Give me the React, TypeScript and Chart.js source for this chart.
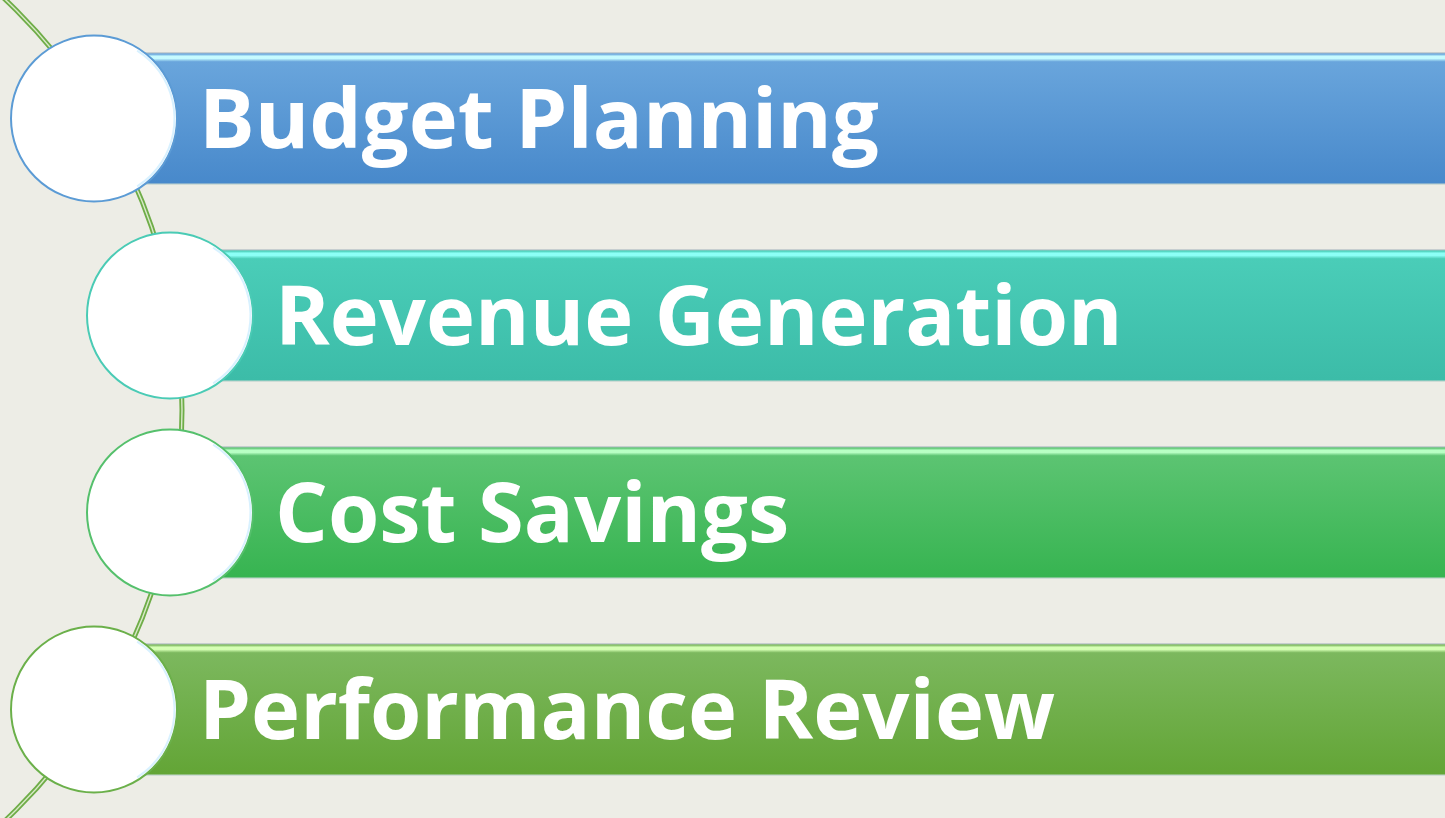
import React, { useEffect, useRef } from "react";
import { Chart, registerables } from "chart.js";

Chart.register(...registerables);

const categories = ["Budget Planning", "Revenue Generation", "Cost Savings", "Performance Review"];
const barStart = [94, 170, 170, 94];
const barEnd = [1445, 1445, 1445, 1445];
const circleX = [94, 170, 170, 94];
const circleRadius = [83, 83, 83, 83];

const barTop = ["#69A5DC", "#4ACDB8", "#5CC472", "#7CB85E"];
const barBottom = ["#4889CB", "#3CBCA8", "#37B451", "#63A536"];
const barShine = ["#C6FBFF", "#8CFFF6", "#B8FFC4", "#D5FFB4"];
const circleBorder = ["#5B9BD5", "#4ACBB5", "#55C06C", "#6BB04A"];

const BG = "#EDEDE6";

export default function App() {
  const ref = useRef<HTMLCanvasElement | null>(null);

  useEffect(() => {
    document.body.style.margin = "0";
    const canvas = ref.current;
    if (!canvas) return;

    const barThick = 132;

    const bgPlugin = {
      id: "bg",
      beforeDraw(chart: any) {
        const { ctx, width, height } = chart;
        ctx.save();
        ctx.fillStyle = BG;
        ctx.fillRect(0, 0, width, height);
        ctx.restore();
      },
    };

    const arcPlugin = {
      id: "arc",
      beforeDatasetsDraw(chart: any) {
        const { ctx } = chart;
        const y = chart.scales.y;
        const x = chart.scales.x;
        const cy = (y.getPixelForValue(1) + y.getPixelForValue(2)) / 2 - 4;
        const R = 565;
        const cx = x.getPixelForValue(182) - R;
        ctx.save();
        ctx.beginPath();
        ctx.arc(cx, cy, R, -Math.PI / 2, Math.PI / 2);
        ctx.strokeStyle = "#6FAD48";
        ctx.lineWidth = 5;
        ctx.stroke();
        ctx.beginPath();
        ctx.arc(cx, cy, R, -Math.PI / 2, Math.PI / 2);
        ctx.strokeStyle = "#D9E9C9";
        ctx.lineWidth = 1.4;
        ctx.stroke();
        ctx.restore();
      },
    };

    const circleShine = {
      id: "circleShine",
      afterDatasetsDraw(chart: any) {
        const { ctx } = chart;
        const meta = chart.getDatasetMeta(0);
        ctx.save();
        meta.data.forEach((pt: any, i: number) => {
          const r = circleRadius[i];
          ctx.beginPath();
          ctx.arc(pt.x, pt.y, r - 2.5, -Math.PI * 0.32, Math.PI * 0.32);
          ctx.strokeStyle = "rgba(200,235,255,0.7)";
          ctx.lineWidth = 2;
          ctx.stroke();
        });
        ctx.restore();
      },
    };

    const textPlugin = {
      id: "labels",
      afterDatasetsDraw(chart: any) {
        const { ctx } = chart;
        const xs = chart.scales.x;
        const ys = chart.scales.y;
        ctx.save();
        ctx.fillStyle = "#FFFFFF";
        ctx.font = "bold 83px 'Open Sans'";
        ctx.textBaseline = "alphabetic";
        ctx.textAlign = "left";
        categories.forEach((c, i) => {
          const x = xs.getPixelForValue(circleX[i]) + 105;
          const y = ys.getPixelForValue(i) + 29;
          ctx.fillText(c, x, y);
        });
        ctx.restore();
      },
    };

    const barFill = (context: any) => {
      const i = context.dataIndex;
      const chart = context.chart;
      const ys = chart.scales && chart.scales.y;
      if (!ys || !chart.chartArea) return barTop[i];
      const yc = ys.getPixelForValue(i);
      const t = yc - barThick / 2;
      const g = chart.ctx.createLinearGradient(0, t, 0, t + barThick);
      g.addColorStop(0, "#B9C4C8");
      g.addColorStop(0.012, barTop[i]);
      g.addColorStop(0.028, barShine[i]);
      g.addColorStop(0.045, barShine[i]);
      g.addColorStop(0.07, barTop[i]);
      g.addColorStop(0.985, barBottom[i]);
      g.addColorStop(1, "#C5D6D0");
      return g;
    };

    const chart = new Chart(canvas, {
      data: {
        labels: categories,
        datasets: [
          {
            type: "bubble",
            data: categories.map((c, i) => ({ x: circleX[i], y: c, r: circleRadius[i] })),
            backgroundColor: "#FFFFFF",
            borderColor: circleBorder,
            borderWidth: 2,
            hoverRadius: 0,
            clip: false,
            order: 1,
          } as any,
          {
            type: "bar",
            indexAxis: "y",
            data: categories.map((c, i) => [barStart[i], barEnd[i]]),
            backgroundColor: barFill,
            borderWidth: 0,
            barThickness: barThick,
            order: 2,
          } as any,
        ],
      },
      options: {
        animation: false,
        responsive: false,
        maintainAspectRatio: false,
        layout: { autoPadding: false, padding: { top: 20, bottom: 10, left: 0, right: 0 } },
        plugins: { legend: { display: false }, tooltip: { enabled: false } },
        events: [],
        scales: {
          x: { type: "linear", min: 0, max: 1445, display: false },
          y: { type: "category", labels: categories, offset: true, display: false },
        },
      },
      plugins: [bgPlugin, arcPlugin, circleShine, textPlugin],
    } as any);

    return () => chart.destroy();
  }, []);

  return (
    <div style={{ width: 1445, height: 818 }}>
      <canvas ref={ref} width={1445} height={818} style={{ display: "block" }} />
    </div>
  );
}
